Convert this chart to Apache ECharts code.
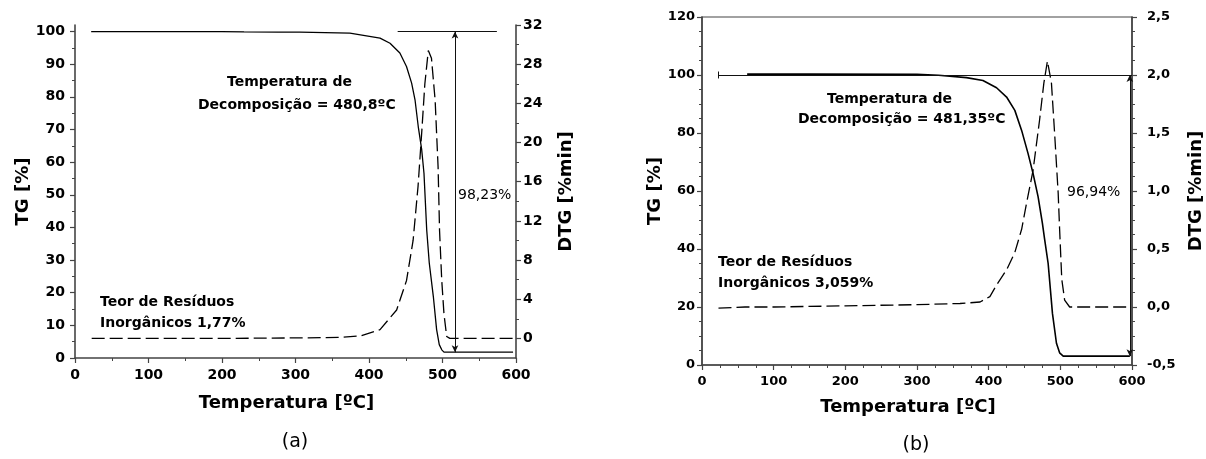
<!DOCTYPE html>
<html><head><meta charset="utf-8">
<script src="https://cdn.jsdelivr.net/npm/echarts@6/dist/echarts.min.js"></script>
<style>html,body{margin:0;padding:0;background:#fff}#c{width:1206px;height:459px}</style>
</head><body><div id="c"></div>
<script>
// ---------- Panel (a) ----------
const tgTempA = [22, 100, 200, 230, 277, 306, 374, 415, 428.6, 442, 451, 458, 462.6, 467, 471.7, 474.8, 478.5, 482, 487.5, 492, 495.6, 499, 502, 550, 596];
const tgValA  = [100, 100, 100, 99.9, 99.8, 99.8, 99.5, 98.0, 96.4, 93.4, 89.3, 84.2, 79.1, 70.9, 63.8, 56.6, 39.3, 29.1, 18.9, 8.7, 4.1, 2.5, 1.8, 1.77, 1.77];
const dtgTempA = [22.7, 100, 200, 300, 360, 388, 415, 437.6, 451, 460, 466.7, 471.7, 476, 480.7, 485, 490, 494, 496, 499, 502, 505.7, 510, 598.6];
const dtgValA  = [0, 0, 0, 0.05, 0.1, 0.25, 0.9, 2.9, 5.9, 10, 15.5, 21, 26, 29.4, 28.6, 24.3, 17.5, 11, 5.9, 2.5, 0.2, 0, 0];
const refLevelA = [[439, 100], [574, 100]];
const arrowA = [[517, 100], [517, 1.77]];
const lossA = '98,23%';
const decompA = ['Temperatura de', 'Decomposição = 480,8ºC'];
const residueA = ['Teor de Resíduos', 'Inorgânicos 1,77%'];

// ---------- Panel (b) ----------
const tgTempB = [63, 150, 300, 330, 369, 392, 411, 425, 436.5, 446, 455, 462, 469, 475, 478, 483, 489, 494.6, 499, 504, 597];
const tgValB  = [100.3, 100.3, 100.2, 99.9, 99.1, 98.1, 95.6, 92.4, 87.8, 80.9, 72.9, 66, 58, 48.8, 43.5, 35, 17.8, 7.5, 4.2, 3.06, 3.06];
const dtgTempB = [23, 60, 100, 200, 300, 360, 388, 401.7, 411, 425, 436.5, 446, 453, 462, 471, 477, 482, 487.6, 492, 497, 499, 502, 506, 513, 597];
const dtgValB  = [-0.01, 0, 0, 0.01, 0.02, 0.03, 0.043, 0.09, 0.19, 0.32, 0.47, 0.67, 0.9, 1.18, 1.61, 1.93, 2.12, 1.93, 1.5, 0.98, 0.67, 0.24, 0.06, 0, 0];
const refLevelB = [[22.7, 100], [600, 100]];
const capB = [[22.7, 98.8], [22.7, 101.2]];
const arrowB = [[597, 100], [597, 3.06]];
const lossB = '96,94%';
const decompB = ['Temperatura de', 'Decomposição = 481,35ºC'];
const residueB = ['Teor de Resíduos', 'Inorgânicos 3,059%'];

// ---------- ticks ----------
const xTicks = [0, 100, 200, 300, 400, 500, 600];
const tgTicksA = [0, 10, 20, 30, 40, 50, 60, 70, 80, 90, 100];
const dtgTicksA = [0, 4, 8, 12, 16, 20, 24, 28, 32];
const tgTicksB = [0, 20, 40, 60, 80, 100, 120];
const dtgTicksB = [-0.5, 0, 0.5, 1, 1.5, 2, 2.5];

const zip = (a, b) => a.map((v, i) => [v, b[i]]);
const FF = '"DejaVu Sans", sans-serif';
const AX = '#444';

function xAxis(gi, fs, minorSplit, gap) {
  return {
    type: 'value', gridIndex: gi, min: 0, max: 600, interval: 100,
    name: 'Temperatura [ºC]', nameLocation: 'middle', nameGap: gap,
    nameTextStyle: {fontFamily: FF, fontWeight: 'bold', fontSize: 18, color: '#000', padding: [0, 18, 0, 0]},
    axisLine: {show: true, onZero: false, lineStyle: {color: AX, width: 1.6}},
    axisTick: {show: true, length: 5, lineStyle: {color: AX, width: 1.2}},
    minorTick: {show: true, splitNumber: minorSplit, length: 3, lineStyle: {color: AX, width: 1}},
    axisLabel: {fontFamily: FF, fontWeight: 'bold', fontSize: fs, color: '#000', margin: 10, customValues: xTicks},
    splitLine: {show: false}
  };
}
function yAxis(gi, pos, opts) {
  return Object.assign({
    type: 'value', gridIndex: gi, position: pos, nameLocation: 'middle',
    nameTextStyle: {fontFamily: FF, fontWeight: 'bold', fontSize: 18, color: '#000'},
    axisLine: {show: true, onZero: false, lineStyle: {color: AX, width: 1.6}},
    splitLine: {show: false}
  }, opts);
}
function tickStyle(minorSplit) {
  return {
    axisTick: {show: true, length: 5, lineStyle: {color: AX, width: 1.2}},
    minorTick: {show: true, splitNumber: minorSplit, length: 3, lineStyle: {color: AX, width: 1}}
  };
}

const solid = {color: '#000', width: 1.3};
const dashed = {color: '#000', width: 1.3, type: [13, 5]};
const thin = {color: '#111', width: 1, type: 'solid'};

function mk(data) {
  return {silent: true, symbol: 'none', animation: false, label: {show: false}, lineStyle: thin, emphasis: {disabled: true}, data: data};
}
const arrowEnd = (c) => ({coord: c, symbol: 'arrow', symbolSize: [5, 7]});

function txt(x, y, t, font, align) {
  return {type: 'text', x: x, y: y, silent: true,
    style: {text: t, font: font, fill: '#000', align: align || 'left', verticalAlign: 'middle', textAlign: align || 'left', textVerticalAlign: 'middle'}};
}
const BF = 'bold 14px ' + FF;
const RF = '14px ' + FF;

const option = {
  animation: false,
  backgroundColor: '#fff',
  grid: [
    {left: 75, top: 25, width: 441, height: 333, show: false},
    {left: 702, top: 17, width: 430, height: 348, show: true, borderColor: AX, borderWidth: 1.2, backgroundColor: 'transparent'}
  ],
  xAxis: [xAxis(0, 14, 2, 36), xAxis(1, 13, 4, 33)],
  yAxis: [
    yAxis(0, 'left', Object.assign({min: 0, max: 102, interval: 10, name: 'TG [%]', nameGap: 42,
      axisLabel: {fontFamily: FF, fontWeight: 'bold', fontSize: 14, color: '#000', margin: 10, customValues: tgTicksA}}, tickStyle(2),
      {axisTick: {show: true, length: 5, customValues: tgTicksA, lineStyle: {color: AX, width: 1.2}}})),
    yAxis(0, 'right', Object.assign({min: -2, max: 32, minInterval: 4, maxInterval: 4, name: 'DTG [%min]', nameGap: 41,
      axisLabel: {fontFamily: FF, fontWeight: 'bold', fontSize: 14, color: '#000', margin: 7, customValues: dtgTicksA}}, tickStyle(2),
      {axisTick: {show: true, length: 5, customValues: dtgTicksA, lineStyle: {color: AX, width: 1.2}}})),
    yAxis(1, 'left', Object.assign({min: 0, max: 120, interval: 20, name: 'TG [%]', nameGap: 34,
      axisLabel: {fontFamily: FF, fontWeight: 'bold', fontSize: 13, color: '#000', margin: 7, customValues: tgTicksB}}, tickStyle(4))),
    yAxis(1, 'right', Object.assign({min: -0.5, max: 2.5, interval: 0.5, name: 'DTG [%min]', nameGap: 55,
      axisLabel: {fontFamily: FF, fontWeight: 'bold', fontSize: 13, color: '#000', margin: 15, customValues: dtgTicksB,
        formatter: v => v.toFixed(1).replace('.', ',')}}, tickStyle(4)))
  ],
  series: [
    {type: 'line', xAxisIndex: 0, yAxisIndex: 0, data: zip(tgTempA, tgValA), showSymbol: false, symbol: 'none', lineStyle: solid, silent: true,
      markLine: mk([
        [{coord: refLevelA[0]}, {coord: refLevelA[1]}],
        [arrowEnd(arrowA[0]), arrowEnd(arrowA[1])]
      ])},
    {type: 'line', xAxisIndex: 0, yAxisIndex: 1, data: zip(dtgTempA, dtgValA), showSymbol: false, symbol: 'none', lineStyle: dashed, silent: true},
    {type: 'line', xAxisIndex: 1, yAxisIndex: 2, data: zip(tgTempB, tgValB), showSymbol: false, symbol: 'none', lineStyle: {color: '#000', width: 1.6}, silent: true,
      markLine: mk([
        [{coord: refLevelB[0]}, {coord: refLevelB[1]}],
        [{coord: capB[0]}, {coord: capB[1]}],
        [arrowEnd(arrowB[0]), arrowEnd(arrowB[1])]
      ])},
    {type: 'line', xAxisIndex: 1, yAxisIndex: 3, data: zip(dtgTempB, dtgValB), showSymbol: false, symbol: 'none', lineStyle: dashed, silent: true}
  ],
  graphic: [
    txt(227, 82, decompA[0], BF),
    txt(198, 105, decompA[1], BF),
    txt(100, 302, residueA[0], BF),
    txt(100, 323, residueA[1], BF),
    txt(458, 195, lossA, RF),
    txt(295, 442, '(a)', '19px ' + FF, 'center'),
    txt(827, 99, decompB[0], BF),
    txt(798, 119.5, decompB[1], BF),
    txt(718, 262, residueB[0], BF),
    txt(718, 283, residueB[1], BF),
    txt(1067, 192, lossB, RF),
    txt(916, 445, '(b)', '19px ' + FF, 'center')
  ]
};
const chart = echarts.init(document.getElementById('c'), null, {renderer: 'canvas'});
chart.setOption(option);
</script>
</body></html>
